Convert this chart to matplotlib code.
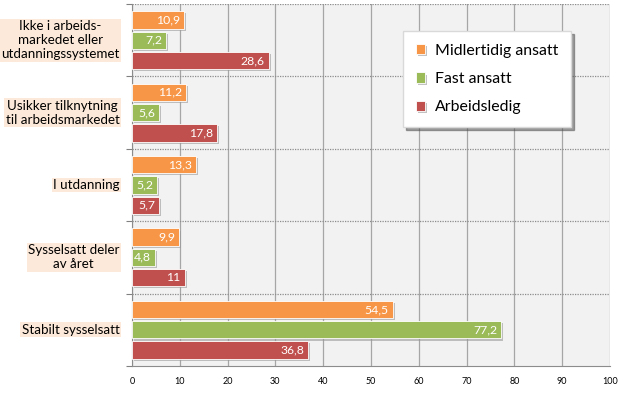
import matplotlib
matplotlib.use("Agg")
import matplotlib.pyplot as plt
import matplotlib.patheffects as pe
import numpy as np

categories = [
    "Ikke i arbeids-\nmarkedet eller\nutdanningssystemet",
    "Usikker tilknytning\ntil arbeidsmarkedet",
    "I utdanning",
    "Sysselsatt deler\nav året",
    "Stabilt sysselsatt",
]
midlertidig = [10.9, 11.2, 13.3, 9.9, 54.5]
fast = [7.2, 5.6, 5.2, 4.8, 77.2]
arbeidsledig = [28.6, 17.8, 5.7, 11.0, 36.8]
value_labels = {
    "Midlertidig ansatt": ["10,9", "11,2", "13,3", "9,9", "54,5"],
    "Fast ansatt": ["7,2", "5,6", "5,2", "4,8", "77,2"],
    "Arbeidsledig": ["28,6", "17,8", "5,7", "11", "36,8"],
}
series = [
    ("Midlertidig ansatt", midlertidig, "#F79646"),
    ("Fast ansatt", fast, "#9BBB59"),
    ("Arbeidsledig", arbeidsledig, "#C0504D"),
]

plt.rcParams["font.family"] = ["Lato", "DejaVu Sans"]

fig = plt.figure(figsize=(6.19, 3.93), dpi=100)
ax = fig.add_axes([132 / 619, 1 - 366 / 393, 478 / 619, 362 / 393])
ax.set_facecolor("#F2F2F2")

n = len(categories)
centers = np.arange(n)[::-1] + 0.5
bar_h = 0.24
pitch = 0.28
shadow = [pe.SimplePatchShadow(offset=(1.5, -1.5), shadow_rgbFace="#9A9A9A", alpha=0.6), pe.Normal()]

for k, (name, vals, color) in enumerate(series):
    ys = centers + (1 - k) * pitch
    bars = ax.barh(ys, vals, height=bar_h, color=color, edgecolor="#FFFFFF",
                   linewidth=0.6, label=name, zorder=3)
    for b in bars:
        b.set_path_effects(shadow)
    for y, v, txt in zip(ys, vals, value_labels[name]):
        ax.text(v - 0.8, y, txt, ha="right", va="center", color="white",
                fontsize=8.8, zorder=4)

ax.set_xlim(0, 100)
ax.set_ylim(0, n)
ax.set_xticks(np.arange(0, 101, 10))
ax.tick_params(axis="x", labelsize=6.5, length=0, pad=8)
ax.set_yticks(np.arange(0, n + 1))
ax.set_yticklabels([])
ax.tick_params(axis="y", length=4, color="#808080", direction="out")
ax.grid(axis="x", color="#A6A6A6", linewidth=0.9, zorder=1)
ax.set_axisbelow(True)
for yb in range(1, n + 1):
    ax.axhline(yb, color="#8C8C8C", linestyle=(0, (1, 1)), linewidth=0.9, zorder=2)

for s in ["top", "right"]:
    ax.spines[s].set_visible(False)
ax.spines["left"].set_color("#8C8C8C")
ax.spines["bottom"].set_color("#8C8C8C")

# category labels with the light peach box
for c, label in zip(centers, categories):
    ax.annotate(label, xy=(0, c), xycoords=("axes fraction", "data"),
                xytext=(-9, 0), textcoords="offset points",
                ha="right", va="center", multialignment="center", fontsize=9.6,
                linespacing=1.2,
                bbox=dict(boxstyle="square,pad=0.1", facecolor="#FDE9D9", edgecolor="none"))

leg = ax.legend(loc="upper left", bbox_to_anchor=(0.567, 0.925), fontsize=11.4,
                frameon=True, fancybox=False, shadow=True, handlelength=0.6,
                handleheight=0.6, handletextpad=0.6, labelspacing=0.9,
                borderpad=0.8, borderaxespad=0)
leg.get_frame().set_edgecolor("#D9D9D9")
leg.get_frame().set_facecolor("white")
leg.get_frame().set_alpha(1)

fig.savefig("out.png", dpi=100)
